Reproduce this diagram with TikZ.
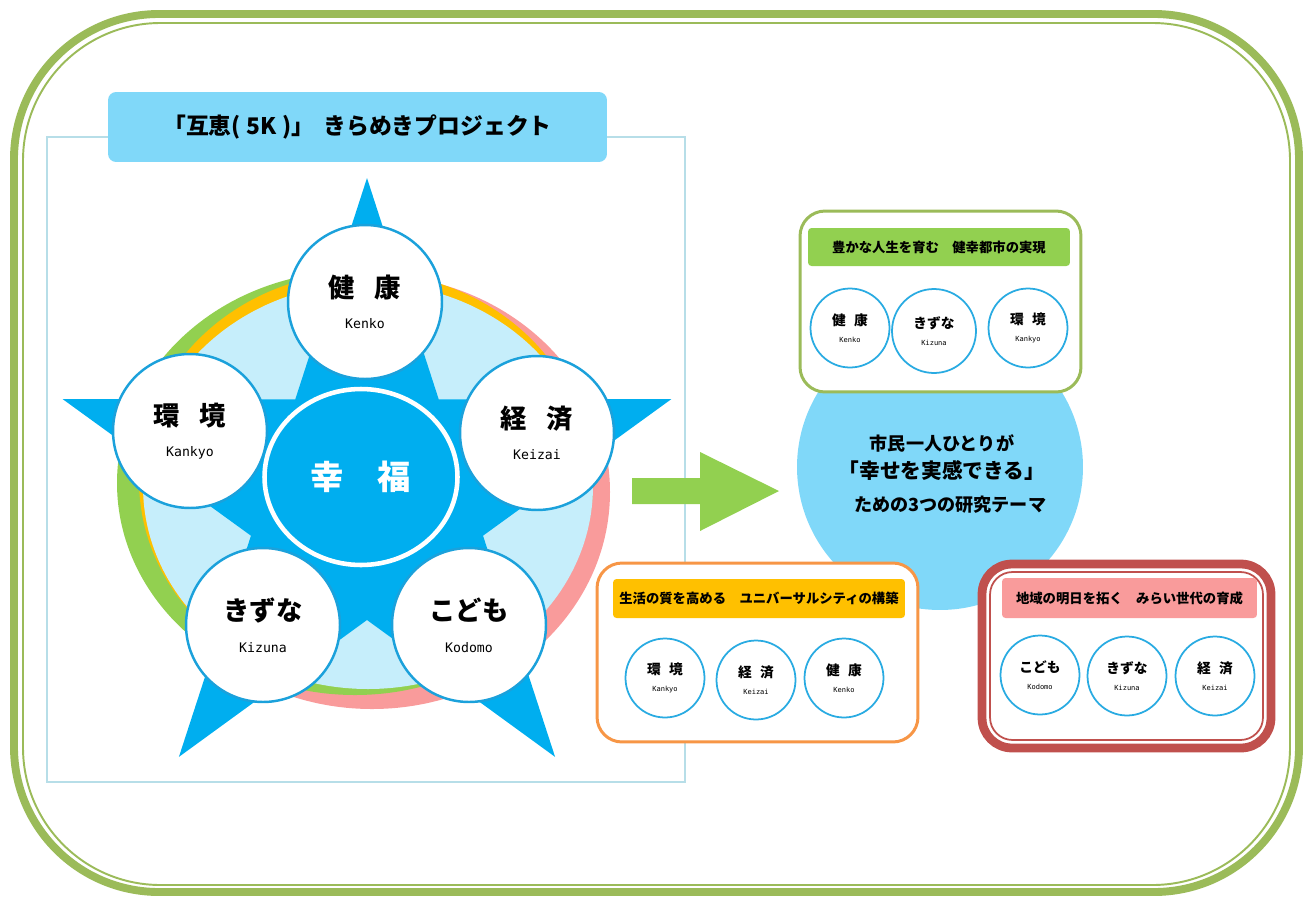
\documentclass[tikz,border=0pt]{standalone}
\usepackage{fontspec}
\usepackage{tikz}
\usetikzlibrary{shapes.geometric}
\newfontfamily\jp{Noto Sans CJK JP}
\newfontfamily\mono{DejaVu Sans Mono}
\newcommand{\romL}[1]{{\mono\mdseries\fontsize{7.5}{9}\selectfont #1}}
\newcommand{\romS}[1]{{\mono\mdseries\fontsize{4}{5}\selectfont #1}}
\definecolor{framegreen}{HTML}{9BBB59}
\definecolor{framecyan}{HTML}{B7DEE8}
\definecolor{skyblue}{HTML}{80D8F9}
\definecolor{ringgreen}{HTML}{92D050}
\definecolor{ringyellow}{HTML}{FFC000}
\definecolor{ringpink}{HTML}{F99B9B}
\definecolor{diskblue}{HTML}{C6EEFB}
\definecolor{starblue}{HTML}{00AEEF}
\definecolor{petblue}{HTML}{1BA1DB}
\definecolor{smblue}{HTML}{29ABE2}
\definecolor{boxorange}{HTML}{F79646}
\definecolor{boxred}{HTML}{C0504D}

\begin{document}
\begin{tikzpicture}[x=0.02cm,y=-0.02cm,
   pet/.style={circle,draw=petblue,line width=1.4pt,fill=white,minimum size=3.08cm,inner sep=0pt,align=center,font=\jp\bfseries\fontsize{15}{18}\selectfont},
   sm/.style={circle,draw=smblue,line width=1pt,fill=white,minimum size=1.58cm,inner sep=0pt,align=center,font=\jp\bfseries\fontsize{7.8}{9.4}\selectfont},
   hd/.style={rounded corners=2pt,inner sep=0pt,font=\jp\bfseries\fontsize{7.6}{9}\selectfont},
   bx/.style={rounded corners=0.5cm,fill=white,line width=1.7pt,inner sep=0pt}]
  \useasboundingbox (0,0) rectangle (1305,896);
  % outer double frame
  \draw[framegreen,line width=4.5pt,rounded corners=2.9cm] (14,14) rectangle (1299,892);
  \draw[framegreen,line width=1.1pt,rounded corners=2.75cm] (23,23) rectangle (1290,885);
  % left panel
  \draw[framecyan,line width=0.6pt] (47,137) rectangle (685,782);
  \node[fill=skyblue,rounded corners=0.16cm,minimum width=9.98cm,minimum height=1.4cm,inner sep=0pt,
        font=\jp\bfseries\fontsize{13}{15}\selectfont] (title) at (357.5,127) {「互恵(\hspace{.25em}5K\hspace{.25em})」\hspace{.4em}きらめきプロジェクト};
  \fill[ringpink] (372,492) ellipse (238 and 217);
  \fill[ringgreen] (355,483) ellipse (238 and 212);
  \fill[ringyellow] (365,480) ellipse (226 and 208);
  \fill[diskblue] (368,486) ellipse (225 and 203);
  \fill[starblue,shift={(367,498)}] (-90:320) -- (-54:122) -- (-18:320) -- (18:122) -- (54:320)
     -- (90:122) -- (126:320) -- (162:122) -- (198:320) -- (234:122) -- cycle;
  \node[ellipse,fill=starblue,draw=white,line width=2.6pt,minimum width=3.86cm,minimum height=3.52cm,inner sep=0pt,
        text=white,font=\jp\bfseries\fontsize{19}{22}\selectfont] (hub) at (361,477) {幸\hspace{1em}福};
  \node[pet] (kenko) at (365,302) {健\hspace{.75em}康\\\romL{Kenko}};
  \node[pet] (kankyo) at (190,431) {環\hspace{.75em}境\\\romL{Kankyo}};
  \node[pet] (keizai) at (537,433) {経\hspace{.75em}済\\\romL{Keizai}};
  \node[pet] (kizuna) at (263,625) {きずな\\\romL{Kizuna}};
  \node[pet] (kodomo) at (469,625) {こども\\\romL{Kodomo}};
  % arrow
  \fill[ringgreen] (632,478) -- (700,478) -- (700,452) -- (779,491) -- (700,531) -- (700,504) -- (632,504) -- cycle;
  % right side
  \node[circle,fill=skyblue,minimum size=5.72cm,inner sep=0pt] (goal) at (940,467) {};
  \node[align=center,font=\jp\bfseries\fontsize{10.3}{15.9}\selectfont] (goaltxt) at (942,474)
     {市民一人ひとりが\\{\fontsize{11.8}{15.9}\selectfont 「幸せを実感できる」}\\[2.6pt]\hspace*{.9em}ための3つの研究テーマ};
  \node[bx,draw=framegreen,minimum width=5.62cm,minimum height=3.62cm] (gbox) at (940.5,301.5) {};
  \node[hd,fill=ringgreen,minimum width=5.24cm,minimum height=0.76cm] (ghd) at (939,247) {豊かな人生を育む　健幸都市の実現};
  \node[sm] (g1) at (850,328) {健\hspace{.6em}康\\\romS{Kenko}};
  \node[sm,minimum size=1.68cm] (g2) at (934,331) {きずな\\\romS{Kizuna}};
  \node[sm] (g3) at (1028,328) {環\hspace{.6em}境\\\romS{Kankyo}};
  \node[bx,draw=boxorange,minimum width=6.42cm,minimum height=3.58cm] (obox) at (757.5,652.5) {};
  \node[hd,fill=ringyellow,minimum width=5.84cm,minimum height=0.78cm] (ohd) at (759,598.5) {生活の質を高める　ユニバーサルシティの構築};
  \node[sm] (o1) at (665,678) {環\hspace{.6em}境\\\romS{Kankyo}};
  \node[sm] (o2) at (756,680) {経\hspace{.6em}済\\\romS{Keizai}};
  \node[sm] (o3) at (844,678) {健\hspace{.6em}康\\\romS{Kenko}};
  \node[bx,draw=boxred,line width=5pt,rounded corners=0.6cm,minimum width=5.78cm,minimum height=3.68cm] (rbox) at (1126.5,656) {};
  \node[draw=boxred,line width=1pt,rounded corners=0.45cm,minimum width=5.46cm,minimum height=3.36cm,inner sep=0pt] (rin) at (1126.5,656) {};
  \node[hd,fill=ringpink,minimum width=5.1cm,minimum height=0.8cm] (rhd) at (1129.5,598) {地域の明日を拓く　みらい世代の育成};
  \node[sm] (r1) at (1040,675) {こども\\\romS{Kodomo}};
  \node[sm] (r2) at (1127,676) {きずな\\\romS{Kizuna}};
  \node[sm] (r3) at (1215,676) {経\hspace{.6em}済\\\romS{Keizai}};
\end{tikzpicture}
\end{document}
